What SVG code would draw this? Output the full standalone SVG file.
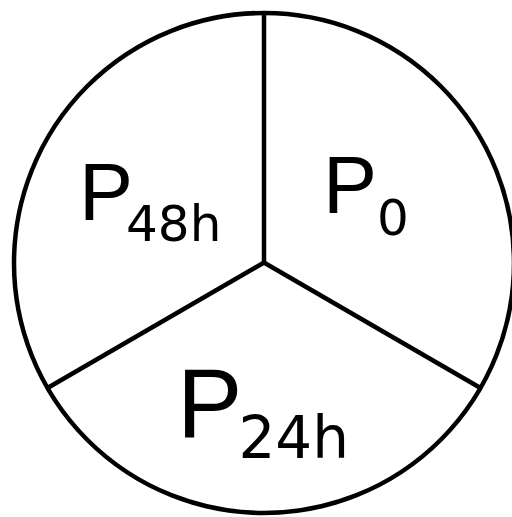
<svg xmlns="http://www.w3.org/2000/svg" width="512" height="517" viewBox="0 0 512 517">
<style>
.ln{stroke:#000;stroke-width:4.5;fill:none;stroke-linecap:butt}
.p{font-family:"Liberation Sans",Arial,sans-serif;fill:#000}
.s{font-family:"DejaVu Sans",sans-serif}
</style>
<rect width="512" height="517" fill="#fff"/>
<g id="outline"><circle class="ln" cx="264" cy="263" r="250"/></g>
<g id="connectors">
<line class="ln" x1="264" y1="13" x2="264" y2="265"/>
<line class="ln" x1="265" y1="262" x2="47.5" y2="388"/>
<line class="ln" x1="263" y1="262" x2="480.5" y2="388"/>
</g>
<g id="P48h"><text class="p" x="79" y="220" font-size="81">P<tspan class="s" dx="-7" dy="21" font-size="50">48h</tspan></text></g>
<g id="P0"><text class="p" x="323" y="213" font-size="81">P<tspan class="s" dy="22" font-size="50">0</tspan></text></g>
<g id="P24h"><text class="p" x="177" y="437" font-size="98">P<tspan class="s" dx="-4" dy="21" font-size="58">24h</tspan></text></g>
</svg>
